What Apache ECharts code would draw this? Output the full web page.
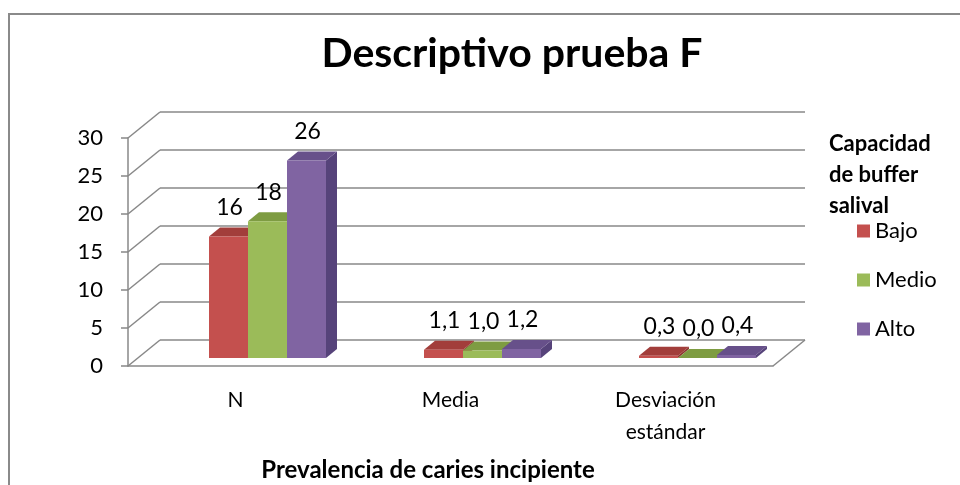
<!DOCTYPE html>
<html>
<head>
<meta charset="utf-8">
<script src="https://cdn.jsdelivr.net/npm/echarts@6/dist/echarts.min.js"></script>
<style>
  html, body { margin: 0; padding: 0; background: #fff; }
  #chart { width: 960px; height: 485px; }
</style>
</head>
<body>
<div id="chart"></div>
<script>
// categorías y valores por capacidad de buffer
const categories = ['N', 'Media', 'Desviación\nestándar'];
const seriesNames = ['Bajo', 'Medio', 'Alto'];
const bajo = [16, 1.1, 0.3];
const medio = [18, 1.0, 0.0];
const alto = [26, 1.2, 0.4];
const decimals = [0, 1, 1];
const yTicks = [0, 5, 10, 15, 20, 25, 30];

const faces = [
  { front: '#C4504E', top: '#A23E3B', side: '#8E3431' },
  { front: '#9BBB59', top: '#7E9C42', side: '#6C8838' },
  { front: '#8064A2', top: '#67508A', side: '#56437A' }
];

const font = 'Lato';
const wallDx = 32, wallDy = -26;   // profundidad de las paredes
const barW = 39, barDx = 11, barDy = -9, barLift = 18;

function fmt(v, cat) {
  return v.toFixed(decimals[cat]).replace('.', ',');
}

function barRenderer(s) {
  return function (params, api) {
    const cat = api.value(0), v = api.value(1);
    const base = api.coord([cat, 0]);
    const top = api.coord([cat, v]);
    const x0 = base[0] - barW * 1.5 + s * barW;
    const yb = base[1] + barLift, yt = top[1] + barLift;
    const c = faces[s];
    return {
      type: 'group',
      children: [
        { type: 'polygon', shape: { points: [[x0 + barW, yt], [x0 + barW + barDx, yt + barDy], [x0 + barW + barDx, yb + barDy], [x0 + barW, yb]] }, style: { fill: c.side } },
        { type: 'polygon', shape: { points: [[x0, yt], [x0 + barDx, yt + barDy], [x0 + barW + barDx, yt + barDy], [x0 + barW, yt]] }, style: { fill: c.top } },
        { type: 'rect', shape: { x: x0, y: yt, width: barW, height: yb - yt }, style: { fill: c.front } },
        { type: 'text', style: { text: fmt(v, cat), x: x0 + barW / 2 + 1, y: yt - 29, align: 'center', verticalAlign: 'middle', font: '23px ' + font, fill: '#000' } }
      ]
    };
  };
}

function wallRenderer(params, api) {
  const cs = params.coordSys;
  const p = api.coord([0, api.value(1)]);
  const lineStyle = { stroke: '#888', lineWidth: 1.5 };
  const children = [
    { type: 'line', shape: { x1: cs.x, y1: p[1], x2: cs.x + wallDx, y2: p[1] + wallDy }, style: lineStyle }
  ];
  if (api.value(1) === 0) {
    children.push({ type: 'line', shape: { x1: cs.x + cs.width, y1: p[1], x2: cs.x + cs.width + wallDx, y2: p[1] + wallDy }, style: lineStyle });
  }
  return { type: 'group', children: children };
}

const allValues = [bajo, medio, alto];
const series = [{
  type: 'custom',
  xAxisIndex: 0,
  yAxisIndex: 0,
  renderItem: wallRenderer,
  data: yTicks.map(v => [0, v]),
  silent: true,
  z: 1
}];
allValues.forEach((vals, s) => {
  series.push({
    name: seriesNames[s],
    type: 'custom',
    xAxisIndex: 1,
    yAxisIndex: 1,
    itemStyle: { color: faces[s].front },
    renderItem: barRenderer(s),
    data: vals.map((v, i) => [i, v]),
    z: 3
  });
});

const chart = echarts.init(document.getElementById('chart'));
chart.setOption({
  backgroundColor: '#fff',
  animation: false,
  textStyle: { fontFamily: font },
  grid: [
    { left: 128, top: 138, width: 645, height: 228 },
    { left: 160, top: 112, width: 645, height: 228 }
  ],
  xAxis: [{
    type: 'category',
    gridIndex: 0,
    data: categories,
    axisLine: { lineStyle: { color: '#888', width: 1.5 } },
    axisTick: { interval: 0, length: 8, lineStyle: { color: '#888', width: 1.5 } },
    axisLabel: { color: '#000', fontSize: 21, lineHeight: 32, margin: 18, interval: 0 },
    splitLine: { show: false }
  }, {
    type: 'category',
    gridIndex: 1,
    data: categories,
    show: false
  }],
  yAxis: [{
    type: 'value',
    gridIndex: 0,
    min: 0, max: 30, interval: 5,
    axisLine: { show: true, lineStyle: { color: '#888', width: 1.5 } },
    axisTick: { show: true, length: 7, lineStyle: { color: '#888', width: 1.5 } },
    axisLabel: { color: '#000', fontSize: 22, margin: 25 },
    splitLine: { show: false }
  }, {
    type: 'value',
    gridIndex: 1,
    min: 0, max: 30, interval: 5,
    axisLine: { show: false },
    axisTick: { show: false },
    axisLabel: { show: false },
    splitLine: { show: true, lineStyle: { color: '#888', width: 1.5 } }
  }],
  legend: {
    data: seriesNames,
    orient: 'vertical',
    left: 852,
    top: 215,
    icon: 'rect',
    itemWidth: 13,
    itemHeight: 13,
    itemGap: 27,
    textStyle: { color: '#000', fontSize: 22, lineHeight: 22, fontFamily: font }
  },
  graphic: [
    { type: 'rect', shape: { x: 9, y: 14, width: 1000, height: 600 }, style: { fill: 'none', stroke: '#8a8a8a', lineWidth: 2 }, z: -1 },
    { type: 'text', x: 512, y: 54, style: { text: 'Descriptivo prueba F', font: 'bold 41px ' + font, fill: '#000', align: 'center', verticalAlign: 'middle' } },
    { type: 'text', x: 829, y: 128, style: { text: 'Capacidad\nde buffer\nsalival', font: 'bold 22px ' + font, lineHeight: 31, fill: '#000', align: 'left', verticalAlign: 'top' } },
    { type: 'text', x: 428, y: 470, style: { text: 'Prevalencia de caries incipiente', font: 'bold 24px ' + font, fill: '#000', align: 'center', verticalAlign: 'middle' } }
  ],
  series: series
});
</script>
</body>
</html>
